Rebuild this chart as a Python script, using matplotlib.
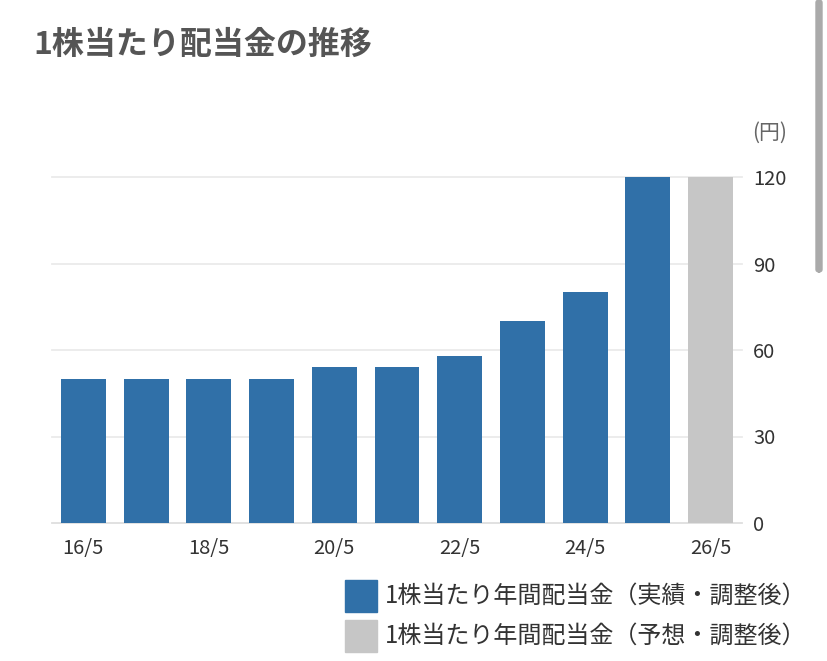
import numpy as np
import matplotlib.pyplot as plt
from matplotlib.patches import Rectangle, FancyBboxPatch

plt.rcParams['font.family'] = ['Noto Sans CJK JP', 'DejaVu Sans']


# Data.
periods = ["16/5", "17/5", "18/5", "19/5", "20/5", "21/5", "22/5", "23/5", "24/5", "25/5", "26/5"]
dividends = [50, 50, 50, 50, 54, 54, 58, 70, 80, 120, 120]
is_forecast = [False] * 10 + [True]
y_ticks = [0, 30, 60, 90, 120]

title_text = "1株当たり配当金の推移"
unit_text = "(円)"
legend_actual = "1株当たり年間配当金（実績・調整後）"
legend_forecast = "1株当たり年間配当金（予想・調整後）"

blue = "#3070a8"
grey = "#c6c6c6"


W, H = 828, 661
fig = plt.figure(figsize = (W / 100, H / 100), dpi = 100)

# Axes placed in pixel terms of the reference.
left, right, bottom, top = 52, 742, 523, 177
ax = fig.add_axes([left / W, 1 - bottom / H, (right - left) / W, (bottom - top) / H])

x = np.arange(len(periods))
colours = [grey if f else blue for f in is_forecast]
ax.bar(x, dividends, width = 0.715, color = colours, zorder = 3)

ax.set_xlim(-0.5, len(periods) - 0.5)
ax.set_ylim(0, 120)
ax.set_yticks(y_ticks)
ax.yaxis.tick_right()
ax.tick_params(axis = 'y', length = 0, pad = 8, labelsize = 14.5, labelcolor = "#333333")
ax.set_xticks(x[::2])
ax.set_xticklabels(periods[::2])
ax.tick_params(axis = 'x', length = 0, pad = 11, labelsize = 14.5, labelcolor = "#333333")

for v in y_ticks:
    ax.axhline(v, color = "#dedede" if v == 0 else "#ebebeb", linewidth = 1.3, zorder = 1, clip_on = False)

for s in ax.spines.values():
    s.set_visible(False)

# Title and unit.
fig.text(33 / W, 1 - 45 / H, title_text, fontsize = 23, fontweight = 'bold', color = "#555555", va = 'center', ha = 'left')
fig.text(752 / W, 1 - 133 / H, unit_text, fontsize = 15, color = "#666666", va = 'center', ha = 'left')

# Legend drawn as squares and labels.
for i, (lbl, c) in enumerate([(legend_actual, blue), (legend_forecast, grey)]):
    y0 = 580 + i * 40
    fig.patches.append(Rectangle((345 / W, 1 - (y0 + 32) / H), 32 / W, 32 / H, transform = fig.transFigure, color = c))
    fig.text(385 / W, 1 - (y0 + 16) / H, lbl, fontsize = 17.3, color = "#333333", va = 'center', ha = 'left')

# Scrollbar strip at the right edge of the screenshot.
fig.patches.append(FancyBboxPatch((816 / W, 1 - 272 / H), 6 / W, 272 / H, boxstyle = "round,pad=0,rounding_size=0.004",
                                  transform = fig.transFigure, color = "#aaaaaa"))

fig.savefig("out.png", dpi = 100)
